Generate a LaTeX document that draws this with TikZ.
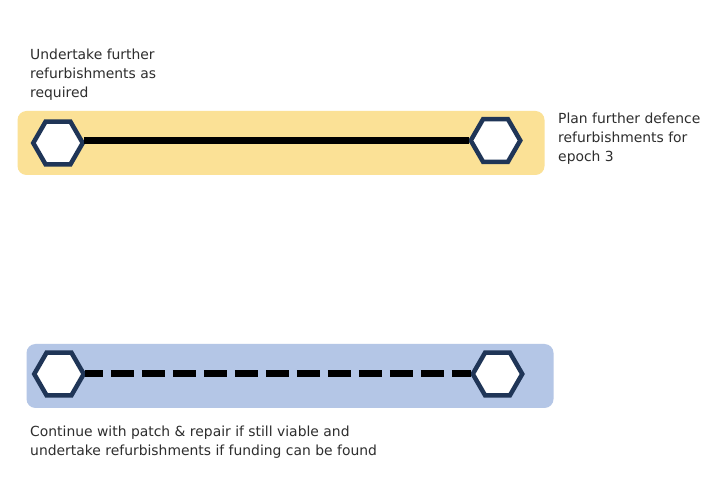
\documentclass[tikz,border=0pt]{standalone}
\usepackage{fontspec}
\setmainfont{DejaVu Sans}
\usetikzlibrary{shapes.geometric}
\definecolor{hexblue}{HTML}{1F3557}
\definecolor{bandyellow}{HTML}{FBE196}
\definecolor{bandblue}{HTML}{B4C6E6}
\definecolor{labelgrey}{HTML}{2E2E2E}
\tikzset{
  band/.style={rounded corners=9pt,draw=none,minimum height=64pt,inner sep=0pt},
  hexnode/.style={regular polygon,regular polygon sides=6,minimum size=49.5pt,inner sep=0pt,outer sep=0pt,draw=hexblue,line width=4.5pt,fill=white},
  solidlink/.style={line width=7pt,black,shorten <=1.5pt,shorten >=1.5pt},
  dashlink/.style={line width=7pt,black,dash pattern=on 23pt off 8pt,dash phase=5.5pt,shorten <=1.5pt,shorten >=1.5pt},
  lbl/.style={font=\fontsize{13.9pt}{19pt}\selectfont,text=labelgrey,align=left,inner sep=0pt,anchor=north west}
}
\begin{document}
\begin{tikzpicture}[x=1pt,y=-1pt]
\useasboundingbox (0,0) rectangle (710,486);
\fill[white] (0,0) rectangle (710,486);
\node[band,fill=bandyellow,minimum width=527pt] (bandA) at (281,143) {};
\node[band,fill=bandblue,minimum width=527pt] (bandB) at (290,376) {};
\node[hexnode] (a1) at (58,143) {};
\node[hexnode] (a2) at (495.5,140.5) {};
\node[hexnode] (b1) at (59,374) {};
\node[hexnode] (b2) at (497.5,374) {};
\draw[solidlink] (a1.east |- a2.west) -- (a2.west);
\draw[dashlink] (b1.east) -- (b2.west);
\node[lbl] (t1) at (30,49) {Undertake further\\refurbishments as\\required};
\node[lbl] (t2) at (558,113) {Plan further defence\\refurbishments for\\epoch 3};
\node[lbl] (t3) at (30,426) {Continue with patch \& repair if still viable and\\undertake refurbishments if funding can be found};
\end{tikzpicture}
\end{document}
